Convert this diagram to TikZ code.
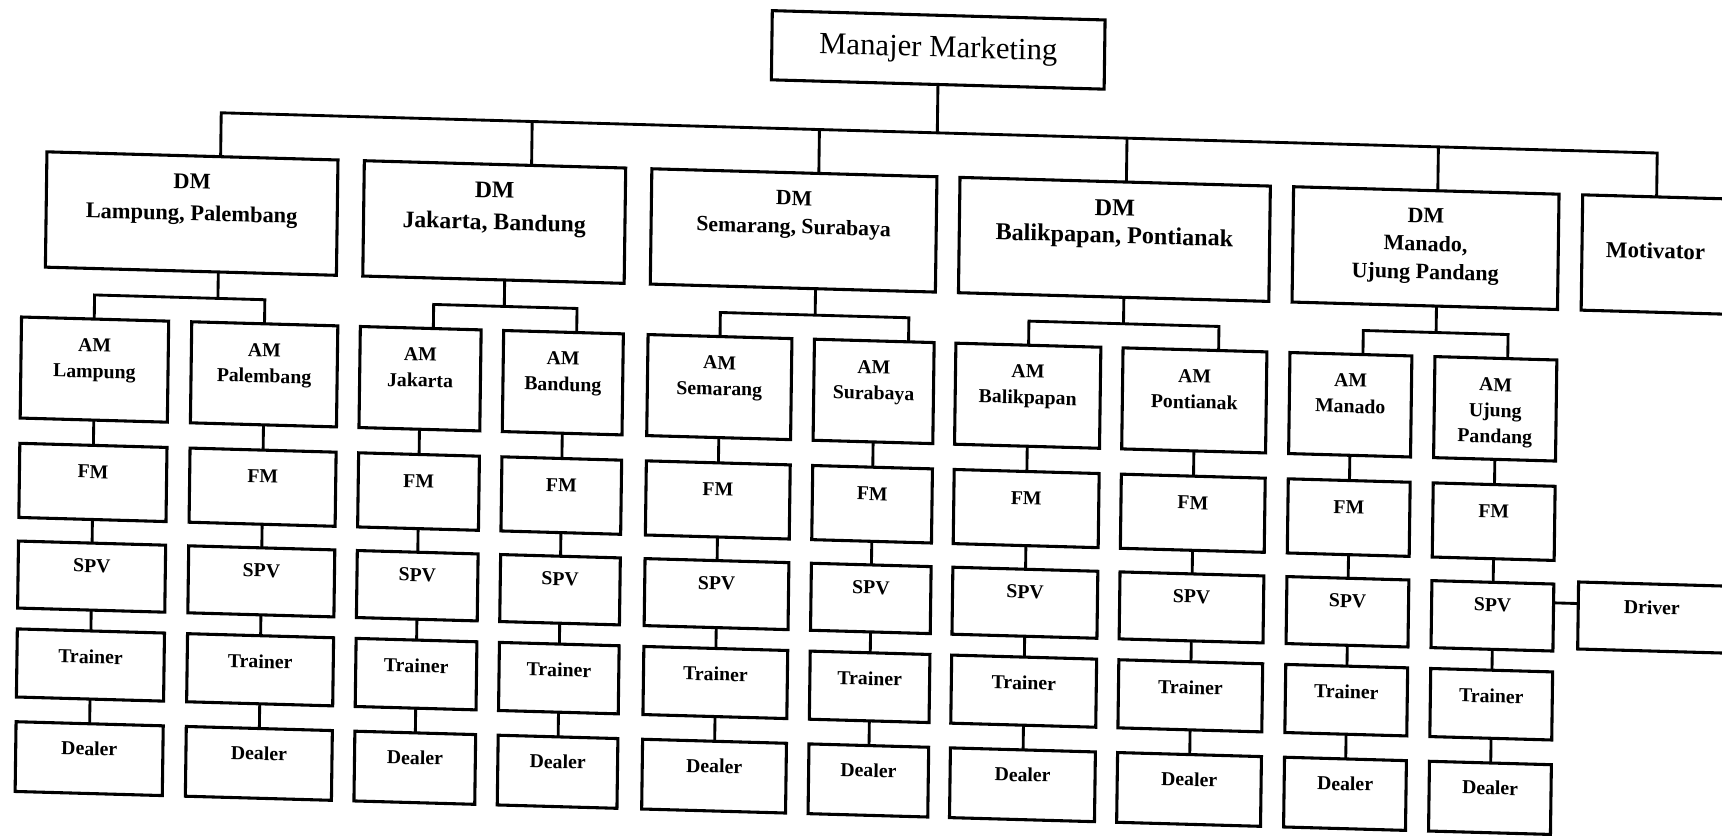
\documentclass[tikz,border=0pt]{standalone}
\usepackage{fontspec}
\setmainfont{Liberation Serif}
\begin{document}
\begin{tikzpicture}[x=0.5pt, y=-0.5pt,
  box/.style={draw, line width=1.4pt, inner sep=0pt, outer sep=0pt},
  conn/.style={line width=1.3pt, line join=miter},
  lbl/.style={inner sep=0pt, outer sep=0pt, align=center,
              font=\bfseries\fontsize{9}{11.8}\selectfont}]
\useasboundingbox (0,0) rectangle (1568,761);
\clip (0,0) rectangle (1568,761);
% the whole chart sits on a slightly sheared sheet
\begin{scope}[cm={1,-0.028,0.0135,1,(0,0)}, transform shape]

% head of the chart
\node[box, minimum width=151.5pt, minimum height=31.5pt] (mm) at (854.6,21.5) {};
\node[inner sep=0pt, anchor=base, font=\fontsize{14}{16}\selectfont] (mmt) at (854.6,28) {Manajer Marketing};

% district managers
\foreach \i/\cx/\w/\fs/\bs/\txt in {
    1/177.1/265/10.2/14.5/{DM\\Lampung, Palembang},
    2/452.6/238/10.8/14.5/{DM\\Jakarta, Bandung},
    3/725.2/259.6/9.9/13/{DM\\Semarang, Surabaya},
    4/1017.3/282.6/11/12.5/{DM\\Balikpapan, Pontianak},
    5/1300.6/241.7/10/12.8/{DM\\Manado,\\Ujung Pandang}}
{
  \node[box, minimum width=\w*0.5pt, minimum height=52.5pt] (dm\i) at (\cx,189.5) {};
  \node[lbl, anchor=north, font=\bfseries\fontsize{\fs}{\bs}\selectfont] (dmt\i) at (\cx,153.5) {\txt};
}
\node[box, minimum width=67pt, minimum height=52.5pt] (mot) at (1510,189.5) {};
\node[lbl, anchor=base, font=\bfseries\fontsize{10.4}{12}\selectfont] (mott) at (1510,193) {Motivator};

% area columns: AM, FM, SPV, Trainer, Dealer
\foreach \i/\cx/\w/\txt in {
    1/90.5/134/Lampung, 2/245/133/Palembang, 3/387/110/Jakarta,
    4/517/109/Bandung, 5/659.5/131/Semarang, 6/800/109/Surabaya,
    7/940.3/132/Balikpapan, 8/1092/131/Pontianak, 9/1234/111/Manado,
    10/1366/111/{Ujung\\Pandang}}
{
  \node[box, minimum width=\w*0.5pt, minimum height=46pt] (am\i) at (\cx,334) {};
  \node[lbl, anchor=north] (amt\i) at (\cx,306) {AM\\\txt};
  \node[box, minimum width=\w*0.5pt, minimum height=33.75pt] (fm\i) at (\cx,436.75) {};
  \node[lbl, anchor=base] (fmt\i) at (\cx,433) {FM};
  \node[box, minimum width=\w*0.5pt, minimum height=30.5pt] (spv\i) at (\cx,522.5) {};
  \node[lbl, anchor=base] (spvt\i) at (\cx,518.5) {SPV};
  \node[box, minimum width=\w*0.5pt, minimum height=31pt] (tr\i) at (\cx,603) {};
  \node[lbl, anchor=base] (trt\i) at (\cx,601.5) {Trainer};
  \node[box, minimum width=\w*0.5pt, minimum height=31.75pt] (dl\i) at (\cx,688.25) {};
  \node[lbl, anchor=base] (dlt\i) at (\cx,685.2) {Dealer};
  \draw[conn] (am\i.south) -- (fm\i.north)
              (fm\i.south) -- (spv\i.north)
              (spv\i.south) -- (tr\i.north)
              (tr\i.south) -- (dl\i.north);
}

% driver beside the last supervisor
\node[box, minimum width=67pt, minimum height=30.5pt] (drv) at (1511,520) {};
\node[lbl, anchor=base] (drvt) at (1511,517) {Driver};
\coordinate (dj) at (1432,509);
\draw[conn] (spv10.east |- dj) -- (drv.west |- dj);

% main bus from the head to the district managers and the motivator
\coordinate (tm) at (854.6,97);
\foreach \k/\x in {1/202.7, 2/485.8, 3/747.3, 4/1027.3, 5/1310.8, 6/1510}
  \coordinate (td\k) at (\x,97);
\draw[conn] (mm.south) -- (tm);
\draw[conn] (td1 |- dm1.north) -- (td1) -- (td6) -- (td6 |- mot.north);
\foreach \k in {2,...,5}
  \draw[conn] (td\k) -- (td\k |- dm\k.north);

% branches from each district manager to its two area managers
\foreach \k/\sx/\ca/\xa/\cb/\xb in {
    1/202/1/89.7/2/244.7, 2/462.7/3/398.4/4/528.9,
    3/745.7/5/659.4/6/831, 4/1026.4/7/940.3/8/1113.3,
    5/1311/9/1244.7/10/1376.5}
{
  \coordinate (st\k) at (\sx,266);
  \coordinate (sl\k) at (\xa,266);
  \coordinate (sr\k) at (\xb,266);
  \draw[conn] (st\k |- dm\k.south) -- (st\k);
  \draw[conn] (sl\k |- am\ca.north) -- (sl\k) -- (sr\k) -- (sr\k |- am\cb.north);
}
\end{scope}
\end{tikzpicture}
\end{document}
